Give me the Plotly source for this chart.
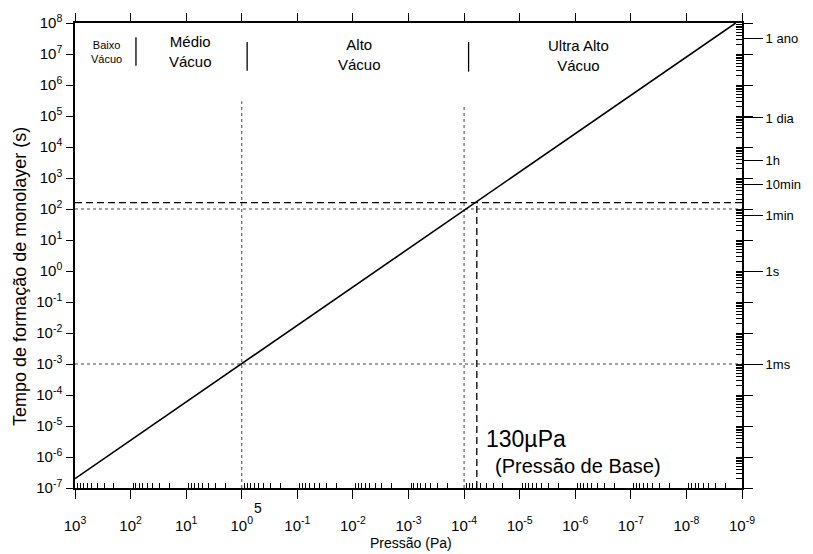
import numpy as np
import plotly.graph_objects as go

# ---------------- data ----------------
pressure_pa = [1e3, 1.3e-9]              # monolayer formation line (x)
monolayer_time_s = [2e-7, 1e8]           # monolayer formation line (y)

base_pressure_pa = 5.9e-5                # vertical dashed line position
base_time_s = 1.6e2                      # horizontal dashed line level

dotted_h_levels = [1e2, 1e-3]            # horizontal dotted reference lines
dotted_v_pressures = [1.0, 1e-4]         # vertical dotted reference lines
dotted_v_tops = [3e5, 2e5]

region_bounds = [80, 0.8, 8.3e-5]        # vacuum region separators
region_bound_top = [3.5e7, 2.45e7, 2.45e7]
region_bound_bottom = [4.2e6, 2.9e6, 2.7e6]
region_labels = ["Baixo<br>Vácuo", "Médio<br>Vácuo", "Alto<br>Vácuo", "Ultra Alto<br>Vácuo"]
region_label_x = [2.72e2, 8.3, 7.6e-3, 8.7e-7]
region_label_y = [1.12e7, 1.23e7, 9.8e6, 9.1e6]
region_label_size = [11, 15, 15, 15]

time_label_vals = [3.156e7, 86400, 3600, 600, 60, 1, 1e-3]
time_label_text = ["1 ano", "1 dia", "1h", "10min", "1min", "1s", "1ms"]

x_exponents = list(range(3, -10, -1))
y_exponents = list(range(-7, 9))

# ---------------- derived tick lists ----------------
x_tickvals = [10.0 ** e for e in x_exponents]
x_ticktext = ["10<sup>%s</sup>" % e for e in x_exponents]
y_tickvals = [10.0 ** e for e in y_exponents]
y_ticktext = ["10<sup>%s</sup>" % e for e in y_exponents]
x_minor = [d * 10.0 ** e for e in range(-9, 3) for d in range(2, 10)]
y_minor = [d * 10.0 ** e for e in range(-7, 8) for d in range(2, 10)]

FONT = "Liberation Sans, Arial, Helvetica, sans-serif"

fig = go.Figure()

# dotted reference lines
for lvl in dotted_h_levels:
    fig.add_trace(go.Scatter(x=[1e3, 1e-9], y=[lvl, lvl], mode="lines",
                             line=dict(color="#444", width=1, dash="dot"),
                             hoverinfo="skip", showlegend=False))
for xv, top in zip(dotted_v_pressures, dotted_v_tops):
    fig.add_trace(go.Scatter(x=[xv, xv], y=[1e-7, top], mode="lines",
                             line=dict(color="#444", width=1, dash="dot"),
                             hoverinfo="skip", showlegend=False))

# dashed base pressure lines
fig.add_trace(go.Scatter(x=[1e3, 1e-9], y=[base_time_s, base_time_s], mode="lines",
                         line=dict(color="black", width=1.3, dash="7px,4px"),
                         hoverinfo="skip", showlegend=False))
fig.add_trace(go.Scatter(x=[base_pressure_pa, base_pressure_pa], y=[1e-7, base_time_s], mode="lines",
                         line=dict(color="black", width=1.3, dash="7px,4px"),
                         hoverinfo="skip", showlegend=False))

# region separators
for xb, yt, yb in zip(region_bounds, region_bound_top, region_bound_bottom):
    fig.add_trace(go.Scatter(x=[xb, xb], y=[yb, yt], mode="lines",
                             line=dict(color="black", width=1.3),
                             hoverinfo="skip", showlegend=False))

# main line
fig.add_trace(go.Scatter(x=pressure_pa, y=monolayer_time_s, mode="lines",
                         line=dict(color="black", width=1.6),
                         hoverinfo="skip", showlegend=False))

# dummy traces for overlay axes
fig.add_trace(go.Scatter(x=[None], y=[None], xaxis="x2", yaxis="y", showlegend=False))
for ax in ["y2", "y3", "y4"]:
    fig.add_trace(go.Scatter(x=[None], y=[None], xaxis="x", yaxis=ax, showlegend=False))

annotations = []
for txt, xv, yv, sz in zip(region_labels, region_label_x, region_label_y, region_label_size):
    annotations.append(dict(x=np.log10(xv), y=np.log10(yv), xref="x", yref="y", text=txt,
                            showarrow=False, font=dict(size=sz, family=FONT, color="black"),
                            align="center", xanchor="center", yanchor="middle"))

annotations += [
    dict(x=0.6137, y=0.1045, xref="paper", yref="paper", text="130µPa", showarrow=False,
         xanchor="left", yanchor="middle", font=dict(size=23, family=FONT, color="black")),
    dict(x=0.627, y=0.0469, xref="paper", yref="paper", text="(Pressão de Base)", showarrow=False,
         xanchor="left", yanchor="middle", font=dict(size=20, family=FONT, color="black")),
    dict(x=0.275, y=-0.0426, xref="paper", yref="paper", text="5", showarrow=False,
         xanchor="center", yanchor="middle", font=dict(size=14, family=FONT, color="black")),
    dict(x=0.504, y=-0.119, xref="paper", yref="paper", text="Pressão (Pa)", showarrow=False,
         xanchor="center", yanchor="middle", font=dict(size=14, family=FONT, color="black")),
    dict(x=-0.0817, y=0.455, xref="paper", yref="paper", text="Tempo de formação de monolayer (s)",
         showarrow=False, textangle=-90, xanchor="center", yanchor="middle",
         font=dict(size=18, family=FONT, color="black")),
]

fig.update_layout(
    width=813, height=554,
    margin=dict(l=75, r=65, t=19, b=66),
    paper_bgcolor="white", plot_bgcolor="white",
    font=dict(family=FONT, color="black"),
    showlegend=False,
    annotations=annotations,
    xaxis=dict(type="log", range=[3, -9], showgrid=False, zeroline=False,
               showline=True, linecolor="black", linewidth=1.5,
               tickmode="array", tickvals=x_tickvals, ticktext=x_ticktext,
               ticks="outside", ticklen=9, tickwidth=1.3, tickcolor="black",
               tickfont=dict(size=15, family=FONT, color="black"),
               ticklabelstandoff=14,
               minor=dict(tickmode="array", tickvals=x_minor, ticks="inside",
                          ticklen=5, tickwidth=1, tickcolor="black", showgrid=False)),
    xaxis2=dict(type="log", range=[3, -9], overlaying="x", side="top", anchor="y",
                showgrid=False, zeroline=False, showline=True, linecolor="black", linewidth=1.5,
                tickmode="array", tickvals=x_tickvals, ticks="outside", ticklen=8,
                tickwidth=1.3, tickcolor="black", showticklabels=False),
    yaxis=dict(type="log", range=[-7, 8], showgrid=False, zeroline=False,
               showline=True, linecolor="black", linewidth=1.5,
               tickmode="array", tickvals=y_tickvals, ticktext=y_ticktext,
               ticks="outside", ticklen=7, tickwidth=1.3, tickcolor="black",
               tickfont=dict(size=15, family=FONT, color="black"),
               ticklabelstandoff=1),
    yaxis2=dict(type="log", range=[-7, 8], overlaying="y", side="right", anchor="x",
                showgrid=False, zeroline=False, showline=True, linecolor="black", linewidth=1.8,
                tickmode="array", tickvals=y_tickvals, ticks="outside", ticklen=9,
                tickwidth=1.3, tickcolor="black", showticklabels=False,
                minor=dict(tickmode="array", tickvals=y_minor, ticks="inside",
                           ticklen=6, tickwidth=1.2, tickcolor="black", showgrid=False)),
    yaxis3=dict(type="log", range=[-7, 8], overlaying="y", side="right", anchor="x",
                showgrid=False, zeroline=False, showline=False,
                tickmode="array", tickvals=time_label_vals, ticktext=time_label_text,
                ticks="outside", ticklen=20, tickwidth=1.2, tickcolor="black",
                tickfont=dict(size=13, family=FONT, color="black")),
    yaxis4=dict(type="log", range=[-7, 8], overlaying="y", side="right", anchor="x",
                showgrid=False, zeroline=False, showline=False,
                tickmode="array", tickvals=y_tickvals, ticks="inside", ticklen=6,
                tickwidth=1.3, tickcolor="black", showticklabels=False),
)

fig.write_html("out.html")
